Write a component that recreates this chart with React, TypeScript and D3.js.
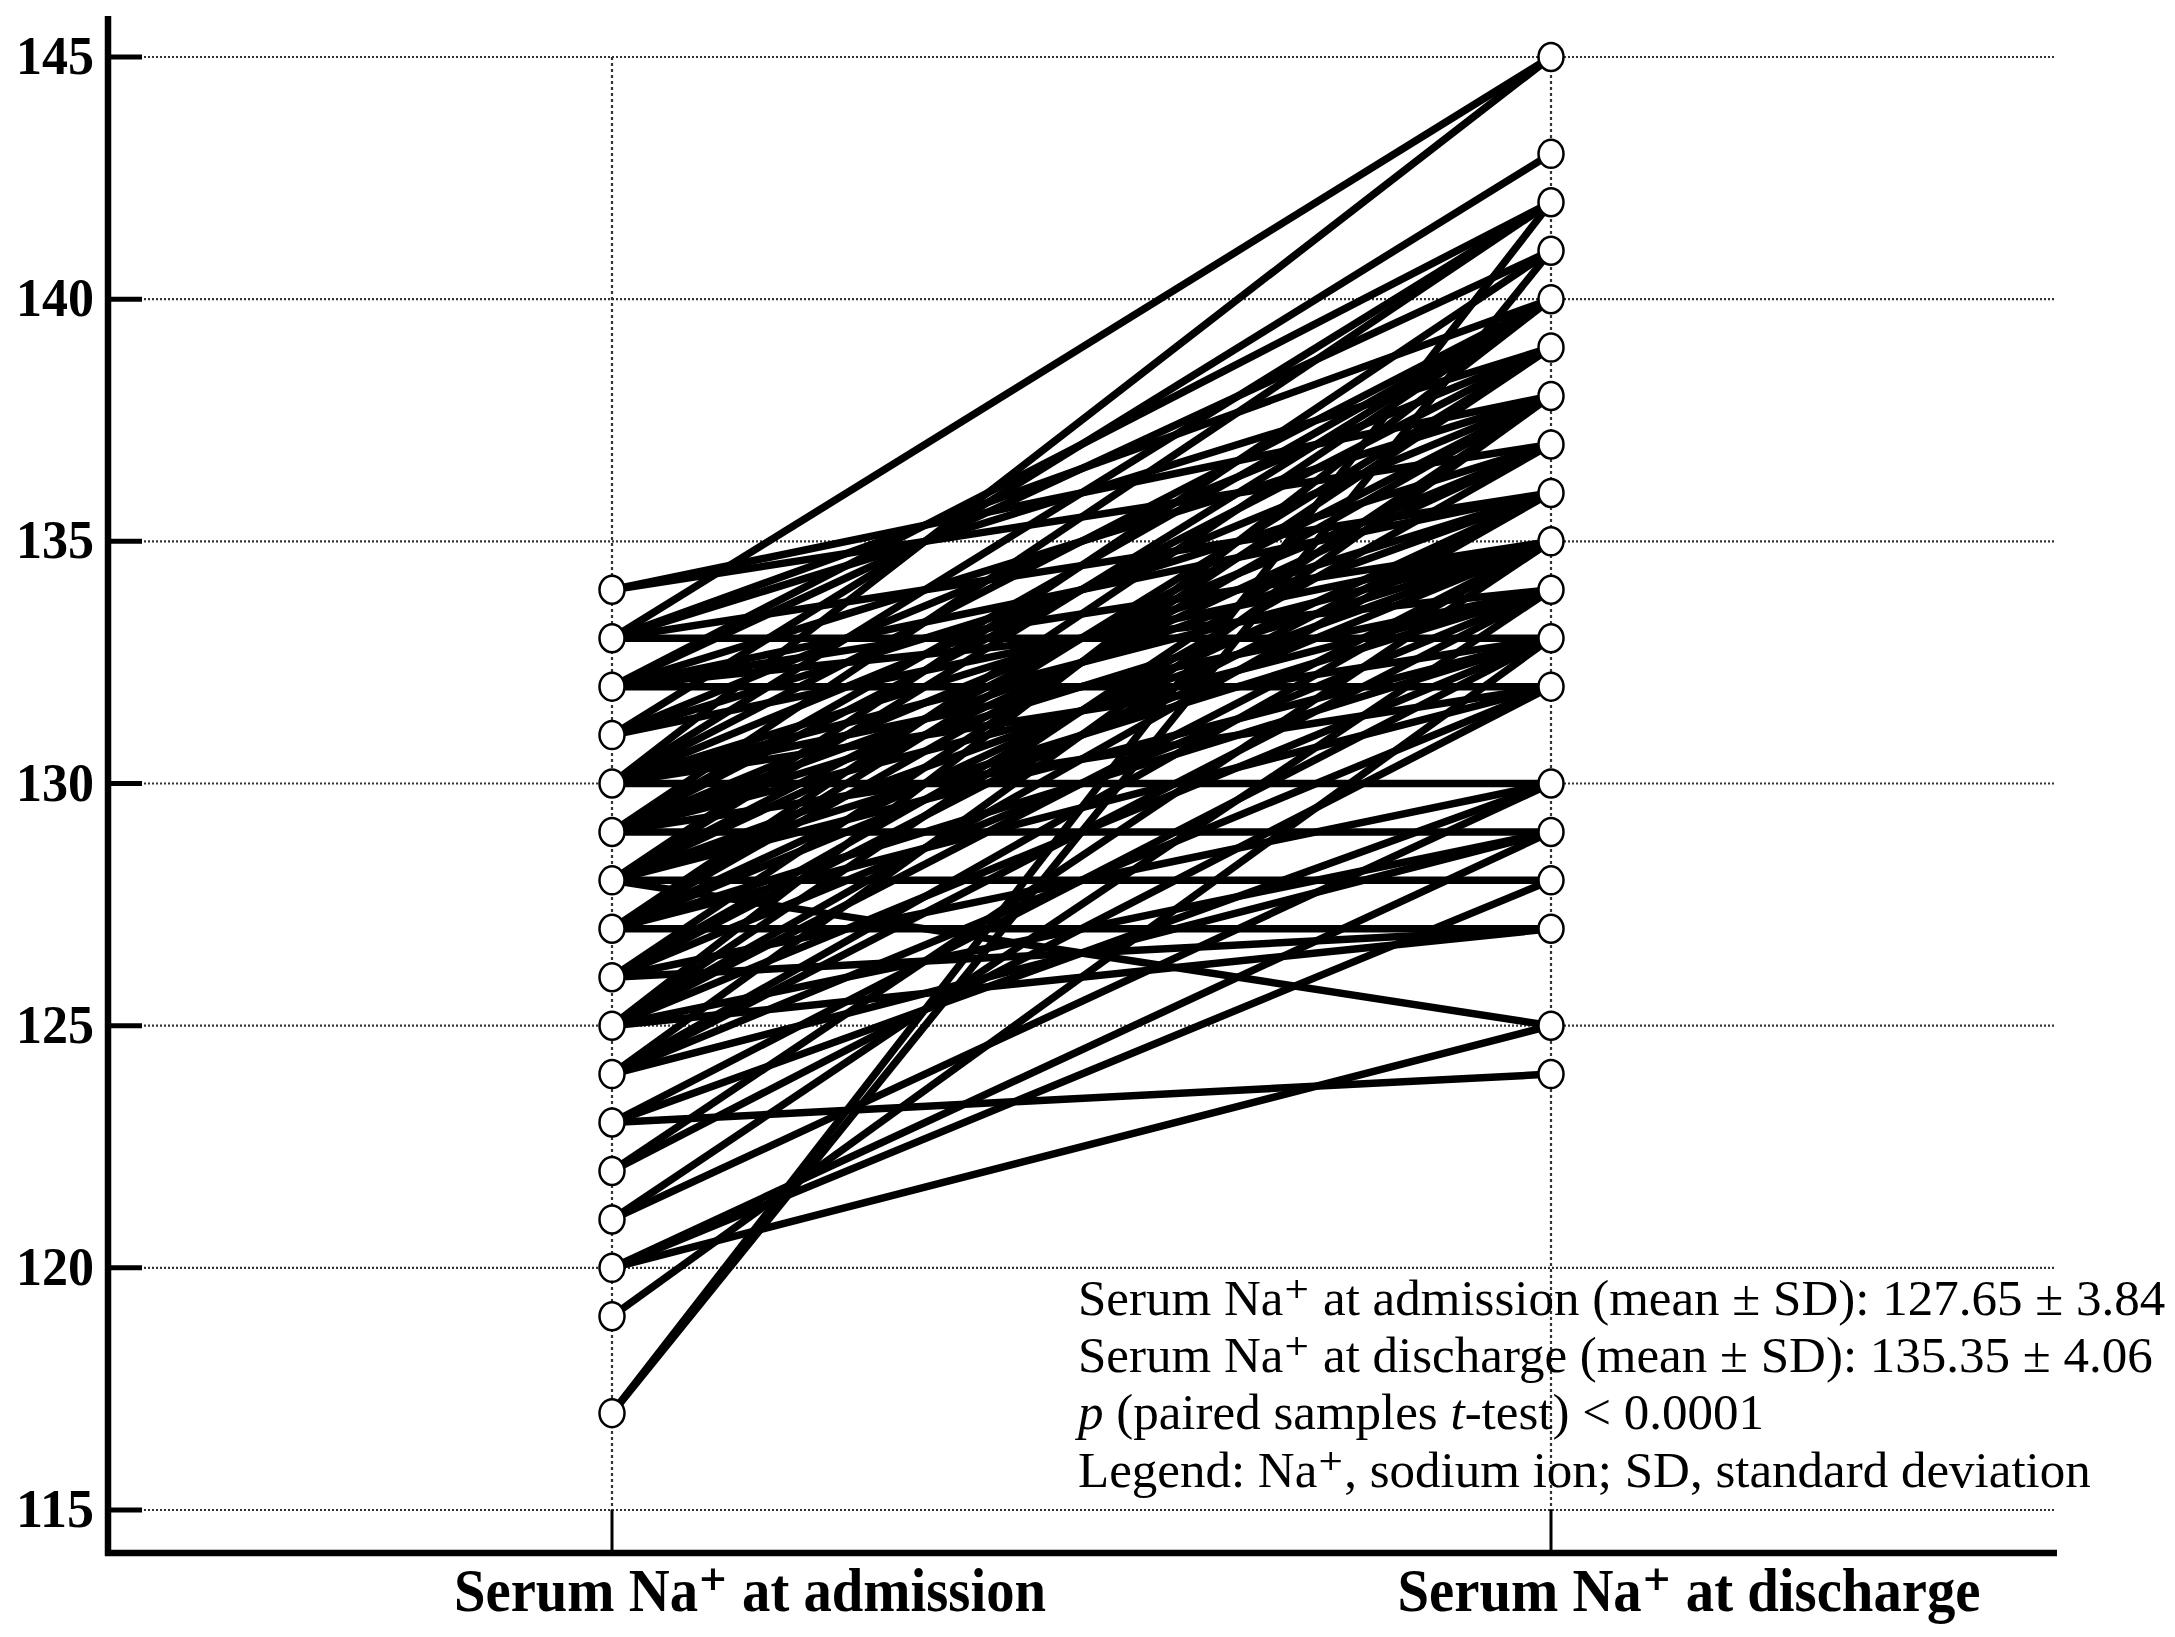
import React from 'react';
import * as d3 from 'd3';

// paired serum Na+ values (admission -> discharge), one entry per patient
const admission = [
  134, 134,
  133, 133, 133, 133, 133,
  132, 132, 132, 132, 132, 132, 132,
  131, 131, 131, 131,
  130, 130, 130, 130, 130, 130, 130, 130, 130,
  129, 129, 129, 129, 129, 129, 129, 129, 129,
  128, 128, 128, 128, 128, 128, 128, 128, 128,
  127, 127, 127, 127, 127, 127, 127, 127,
  126, 126, 126, 126, 126, 126,
  125, 125, 125, 125, 125, 125, 125,
  124, 124, 124, 124, 124,
  123, 123, 123,
  122, 122,
  121, 121,
  120, 120, 120,
  119,
  117, 117,
];
const discharge = [
  137, 138,
  145, 140, 139, 133, 136,
  142, 141, 138, 136, 135, 132, 134,
  143, 139, 137, 135,
  145, 142, 140, 138, 136, 135, 134, 133, 130,
  142, 140, 139, 137, 136, 135, 134, 132, 129,
  141, 140, 138, 137, 135, 134, 133, 128, 125,
  140, 139, 138, 136, 135, 133, 132, 127,
  139, 137, 136, 134, 130, 127,
  140, 138, 136, 135, 133, 129, 127,
  138, 135, 134, 132, 129,
  133, 130, 124,
  135, 132,
  134, 130,
  129, 128, 125,
  133,
  141, 142,
];

const categories = ['admission', 'discharge'];
const categoryLabels = ['Serum Na⁺ at admission', 'Serum Na⁺ at discharge'];
const yTicks = [115, 120, 125, 130, 135, 140, 145];
const notes = [
  'Serum Na⁺ at admission (mean ± SD): 127.65 ± 3.84',
  'Serum Na⁺ at discharge (mean ± SD): 135.35 ± 4.06',
  '', // p-value line, built with italics below
  'Legend: Na⁺, sodium ion; SD, standard deviation',
];

const W = 2175;
const H = 1637;
const axisX = 108;
const axisY = 1553;
const gridRight = 2055;

const y = d3.scaleLinear().domain([115, 145]).range([1510, 57]);
const x = d3.scalePoint<string>().domain(categories).range([612, 1551]);

const serif = '"Liberation Serif", "DejaVu Serif", serif';

export default function App() {
  const pairs = admission.map((a, i) => ({ a, d: discharge[i] }));
  const admVals = Array.from(new Set(admission));
  const disVals = Array.from(new Set(discharge));
  const line = d3.line<[number, number]>();
  const noteSize = 51;
  const noteX = 1078;
  const noteY = [1315, 1372, 1429, 1487];

  return (
    <svg width={W} height={H} style={{ position: 'absolute', left: 0, top: 0, background: '#fff' }}>
      {/* horizontal dotted grid */}
      {yTicks.map(t => (
        <line key={'g' + t} x1={axisX} x2={gridRight} y1={y(t)} y2={y(t)}
          stroke="#333" strokeWidth={2.2} strokeDasharray="2,2" />
      ))}
      {/* vertical dotted grid at the two columns */}
      {categories.map(c => (
        <g key={'v' + c}>
          <line x1={x(c)} x2={x(c)} y1={y(145)} y2={y(115)}
            stroke="#333" strokeWidth={2.2} strokeDasharray="3,3" />
          <line x1={x(c)} x2={x(c)} y1={y(115)} y2={axisY}
            stroke="#000" strokeWidth={3} />
        </g>
      ))}

      {/* patient lines */}
      {pairs.map((p, i) => (
        <path key={'l' + i}
          d={line([[x('admission')!, y(p.a)], [x('discharge')!, y(p.d)]]) || ''}
          stroke="#000" strokeWidth={7.5} fill="none" />
      ))}

      {/* markers */}
      {admVals.map(v => (
        <ellipse key={'a' + v} cx={x('admission')} cy={y(v)} rx={12.5} ry={14}
          fill="#fff" stroke="#000" strokeWidth={2.5} />
      ))}
      {disVals.map(v => (
        <ellipse key={'d' + v} cx={x('discharge')} cy={y(v)} rx={12.5} ry={14}
          fill="#fff" stroke="#000" strokeWidth={2.5} />
      ))}

      {/* axes */}
      <line x1={axisX} x2={axisX} y1={16} y2={axisY + 3} stroke="#000" strokeWidth={6.5} />
      <line x1={axisX - 3} x2={gridRight + 2} y1={axisY} y2={axisY} stroke="#000" strokeWidth={6.5} />
      {yTicks.map(t => (
        <g key={'t' + t}>
          <line x1={axisX} x2={axisX + 34} y1={y(t)} y2={y(t)} stroke="#000" strokeWidth={5} />
          <text x={94} y={y(t) + 17} textAnchor="end" fontFamily={serif} fontWeight="bold"
            fontSize={54} textLength={78} lengthAdjust="spacingAndGlyphs">{t}</text>
        </g>
      ))}

      {/* category labels */}
      {categories.map((c, i) => (
        <text key={'c' + c} x={x(c)! + 138} y={1611} textAnchor="middle" fontFamily={serif}
          fontWeight="bold" fontSize={62} textLength={i === 0 ? 592 : 583}
          lengthAdjust="spacingAndGlyphs">
          {categoryLabels[i]}
        </text>
      ))}

      {/* statistics note */}
      <g fontFamily={serif} fontSize={noteSize} fill="#000">
        {[0, 1, 3].map(k => (
          <text key={'n' + k} x={noteX} y={noteY[k]}>{notes[k]}</text>
        ))}
        <text x={noteX} y={noteY[2]}>
          <tspan fontStyle="italic">p</tspan> (paired samples <tspan fontStyle="italic">t</tspan>-test) &lt; 0.0001
        </text>
      </g>
    </svg>
  );
}
